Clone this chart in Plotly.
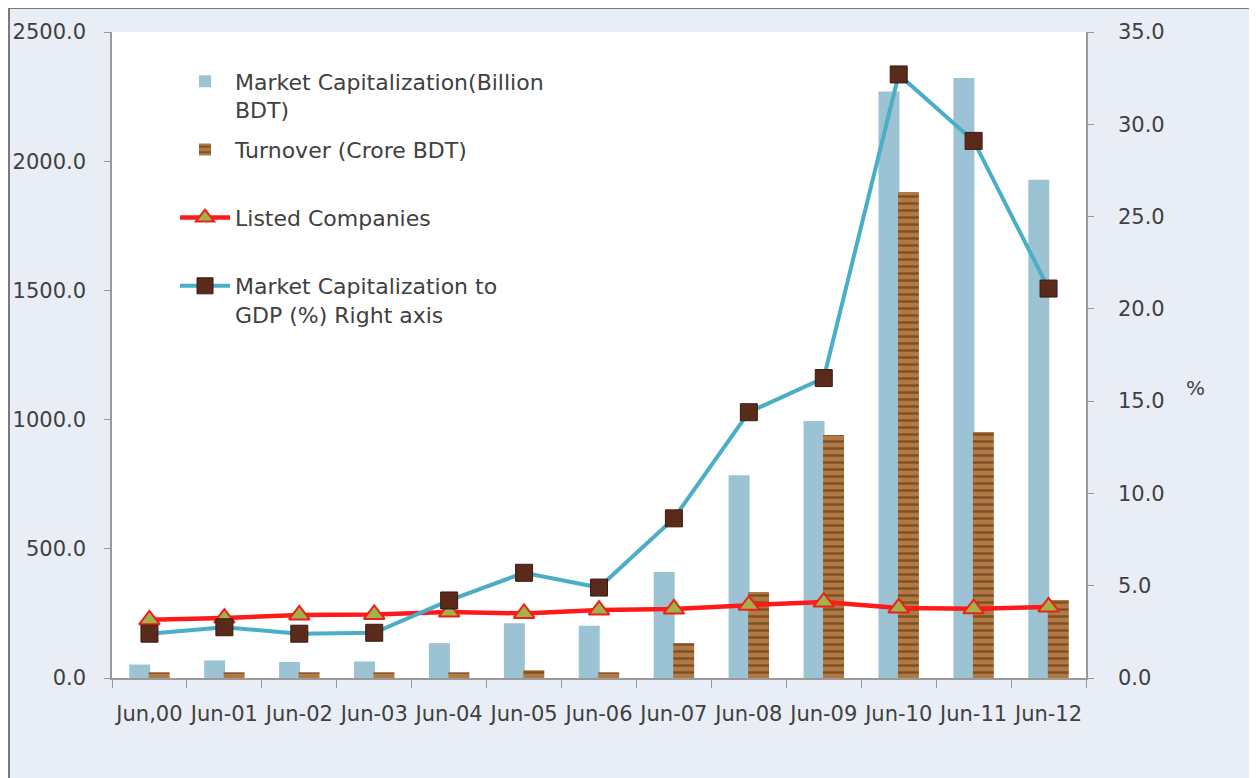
import plotly.graph_objects as go

categories = ["Jun,00", "Jun-01", "Jun-02", "Jun-03", "Jun-04", "Jun-05", "Jun-06",
              "Jun-07", "Jun-08", "Jun-09", "Jun-10", "Jun-11", "Jun-12"]
market_cap = [52, 68, 62, 64, 135, 212, 202, 410, 785, 995, 2270, 2322, 1928]
turnover = [22, 22, 22, 22, 22, 30, 22, 135, 333, 940, 1881, 952, 302]
listed_companies = [225, 232, 244, 246, 255, 250, 263, 267, 282, 294, 271, 268, 275]
mcap_to_gdp = [2.4, 2.75, 2.4, 2.45, 4.2, 5.7, 4.9, 8.65, 14.4, 16.25, 32.7, 29.1, 21.1]

left_ticks = [0, 500, 1000, 1500, 2000, 2500]
right_ticks = [0, 5, 10, 15, 20, 25, 30, 35]

FONT = "DejaVu Sans"
TXT = "#404040"
AX = "#9a9a9a"
NB = "\u00a0"

# figure geometry (px, figure coords; page adds 8px body margin)
W, H = 1244, 770
L, R, T, B = 104, 166, 24, 100
pw, ph = W - L - R, H - T - B


def px_x(px):
    return (px - L) / pw


def px_y(py):
    return (H - B - py) / ph


fig = go.Figure()

fig.add_trace(go.Bar(
    x=categories, y=market_cap, name="Market Capitalization(Billion<br>BDT)",
    marker=dict(color="#9cc3d3", line=dict(width=0)),
    offset=-0.27, width=0.28, legendgroup="mc",
))
fig.add_trace(go.Bar(
    x=categories, y=turnover, name="Turnover (Crore BDT)<br>" + NB,
    marker=dict(color="#a86e36", line=dict(width=0),
                pattern=dict(shape="-", fgcolor="#4a2610", bgcolor="#b07a42",
                             size=7, solidity=0.35)),
    offset=-0.01, width=0.28, legendgroup="to",
))
fig.add_trace(go.Scatter(
    x=categories, y=listed_companies, name="Listed Companies<br>" + NB,
    mode="lines+markers",
    line=dict(color="#ff1a1a", width=4.5),
    marker=dict(symbol="triangle-up", size=18, color="#a3b14a",
                line=dict(color="#e8231a", width=2)),
    legendgroup="lc",
))
fig.add_trace(go.Scatter(
    x=categories, y=mcap_to_gdp, name="Market Capitalization to<br>GDP (%) Right axis",
    mode="lines+markers", yaxis="y2",
    line=dict(color="#4aaec6", width=4),
    marker=dict(symbol="square", size=17, color="#5a2a1a",
                line=dict(color="#3a1a10", width=1)),
    legendgroup="gdp",
))

shapes = [
    dict(type="rect", xref="paper", yref="paper",
         x0=px_x(1), x1=px_x(W - 1), y0=px_y(H + 10), y1=px_y(0),
         fillcolor="rgba(0,0,0,0)", line=dict(color="#7a7a7a", width=2), layer="above"),
]

fig.update_layout(
    width=W, height=H, autosize=False,
    margin=dict(l=L, r=R, t=T, b=B, autoexpand=False),
    paper_bgcolor="#e9eef6", plot_bgcolor="#ffffff",
    font=dict(family=FONT, size=21, color=TXT),
    barmode="overlay",
    showlegend=True,
    legend=dict(x=0.0647, y=0.956, xanchor="left", yanchor="top", valign="top",
                itemwidth=50,
                bgcolor="rgba(0,0,0,0)", traceorder="grouped", tracegroupgap=8,
                font=dict(family=FONT, size=22, color=TXT)),
    xaxis=dict(type="category", range=[-0.5, len(categories) - 0.5], automargin=False,
               tickson="boundaries", ticks="outside", ticklen=8,
               tickcolor=AX, showline=True, linecolor=AX, linewidth=1.5,
               showgrid=False, ticklabelstandoff=16, tickangle=0,
               tickfont=dict(size=21)),
    yaxis=dict(range=[0, 2500], tickvals=left_ticks, tickformat=".1f", automargin=False,
               ticks="outside", ticklen=6, tickcolor=AX, showline=True,
               linecolor=AX, linewidth=1.5, showgrid=False, zeroline=False,
               ticklabelstandoff=14),
    yaxis2=dict(range=[0, 35], tickvals=right_ticks, tickformat=".1f", automargin=False,
                overlaying="y", side="right", ticks="outside", ticklen=6,
                tickcolor=AX, showline=True, linecolor=AX, linewidth=1.5,
                showgrid=False, zeroline=False, ticklabelstandoff=20),
    shapes=shapes,
    annotations=[dict(text="%", xref="paper", yref="paper", x=px_x(1199), y=px_y(380),
                      showarrow=False, font=dict(family=FONT, size=20, color=TXT))],
)

fig.write_html("out.html")
